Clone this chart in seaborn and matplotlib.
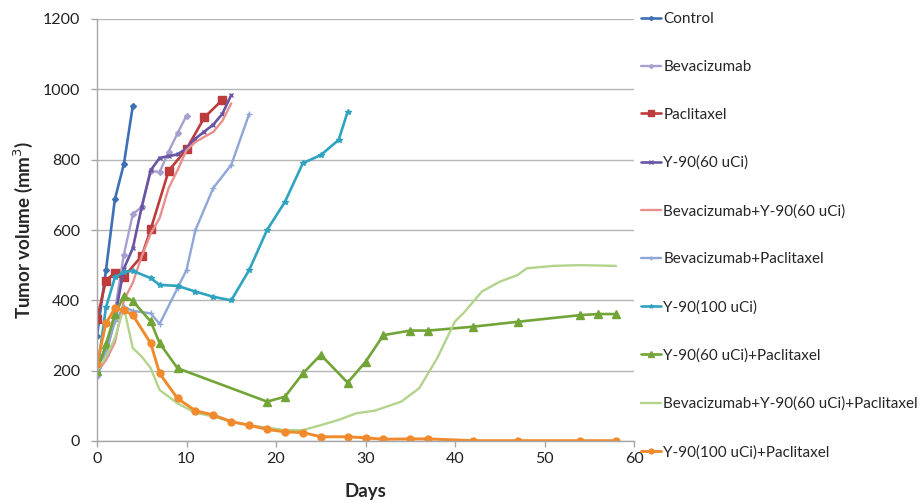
import matplotlib
matplotlib.use("Agg")
import matplotlib.pyplot as plt
import seaborn as sns
import numpy as np

# --- data (day, tumor volume mm3) ---
days_control = [0, 1, 2, 3, 4]
vol_control = [300, 485, 688, 787, 953]

days_bev = [0, 1, 2, 3, 4, 5, 6, 7, 8, 9, 10]
vol_bev = [185, 245, 370, 530, 645, 666, 768, 765, 823, 875, 925]

days_pac = [0, 1, 2, 3, 5, 6, 8, 10, 12, 14]
vol_pac = [347, 456, 479, 467, 526, 602, 768, 830, 920, 970]

days_y60 = [0, 1, 2, 3, 4, 5, 6, 7, 8, 9, 10, 11, 12, 13, 14, 15]
vol_y60 = [195, 250, 350, 490, 548, 666, 770, 805, 810, 815, 832, 860, 880, 900, 930, 984]

days_bev_y60 = [0, 1, 2, 3, 4, 5, 6, 7, 8, 9, 10, 11, 12, 13, 14, 15]
vol_bev_y60 = [195, 230, 280, 400, 450, 525, 590, 634, 719, 770, 827, 850, 865, 879, 910, 960]

days_bev_pac = [0, 1, 2, 3, 4, 6, 7, 9, 10, 11, 13, 15, 17]
vol_bev_pac = [185, 250, 340, 382, 370, 363, 333, 435, 486, 600, 720, 785, 930]

days_y100 = [0, 1, 2, 3, 4, 6, 7, 9, 11, 13, 15, 17, 19, 21, 23, 25, 27, 28]
vol_y100 = [193, 380, 465, 481, 484, 463, 444, 441, 425, 410, 400, 486, 600, 680, 790, 813, 856, 936]

days_y60_pac = [0, 1, 2, 3, 4, 6, 7, 9, 19, 21, 23, 25, 28, 30, 32, 35, 37, 42, 47, 54, 56, 58]
vol_y60_pac = [200, 275, 360, 412, 398, 340, 278, 207, 112, 126, 192, 245, 166, 225, 301, 314, 314, 325, 339, 358, 361, 361]

days_bev_y60_pac = [0, 1, 2, 3, 4, 5, 6, 7, 9, 11, 13, 15, 17, 19, 21, 23, 25, 27, 29, 31, 34,
                    36, 38, 40, 41, 43, 45, 47, 48, 51, 54, 58]
vol_bev_y60_pac = [200, 240, 292, 380, 264, 240, 207, 145, 107, 80, 70, 55, 45, 38, 31, 31, 45,
                   60, 79, 86, 112, 150, 235, 340, 365, 425, 453, 472, 491, 498, 500, 498]

days_y100_pac = [0, 1, 2, 3, 4, 6, 7, 9, 11, 13, 15, 17, 19, 21, 23, 25, 28, 30, 32, 35, 37, 42, 47, 54, 58]
vol_y100_pac = [219, 335, 377, 372, 358, 278, 192, 121, 86, 74, 55, 45, 33, 26, 24, 12, 12, 9, 5, 6, 6, 1, 1, 1, 1]

labels = ["Control", "Bevacizumab", "Paclitaxel", "Y-90(60 uCi)", "Bevacizumab+Y-90(60 uCi)",
          "Bevacizumab+Paclitaxel", "Y-90(100 uCi)", "Y-90(60 uCi)+Paclitaxel",
          "Bevacizumab+Y-90(60 uCi)+Paclitaxel", "Y-90(100 uCi)+Paclitaxel"]
all_days = [days_control, days_bev, days_pac, days_y60, days_bev_y60,
            days_bev_pac, days_y100, days_y60_pac, days_bev_y60_pac, days_y100_pac]
all_vols = [vol_control, vol_bev, vol_pac, vol_y60, vol_bev_y60,
            vol_bev_pac, vol_y100, vol_y60_pac, vol_bev_y60_pac, vol_y100_pac]

# styles: color, marker, markersize, linewidth
styles = [
    ("#3F6FB5", "D", 3.0, 1.9),
    ("#A79FCF", "D", 3.0, 1.7),
    ("#BE3B3B", "s", 5.5, 1.9),
    ("#6A55A5", "x", 3.5, 1.9),
    ("#E8908C", "None", 0, 1.7),
    ("#8EA6D8", "+", 4.0, 1.7),
    ("#2FA3C0", "*", 4.0, 1.9),
    ("#72A437", "^", 5.5, 1.9),
    ("#B2D48C", "None", 0, 1.7),
    ("#F08A2C", "o", 5.0, 2.1),
]

sns.set_style("white")
plt.rcParams['font.family'] = ['Lato', 'DejaVu Sans']

fig = plt.figure(figsize=(9.24, 5.04), dpi=100)
ax = fig.add_axes([97 / 924, 1 - 441 / 504, (634 - 97) / 924, (441 - 19) / 504])

for d, v, lab, (c, m, ms, lw) in zip(all_days, all_vols, labels, styles):
    sns.lineplot(x=d, y=v, ax=ax, color=c, marker=m, markersize=ms, linewidth=lw,
                 markeredgecolor=c, markeredgewidth=1.0, label=lab, sort=False)

ax.set_xlim(0, 60)
ax.set_ylim(0, 1200)
ax.set_xticks(np.arange(0, 61, 10))
ax.set_yticks(np.arange(0, 1201, 200))
ax.yaxis.grid(True, color="#b5b5b5", linewidth=1.0)
ax.xaxis.grid(False)
for s in ["top", "right"]:
    ax.spines[s].set_visible(False)
for s in ["left", "bottom"]:
    ax.spines[s].set_color("#a6a6a6")
    ax.spines[s].set_linewidth(1.0)
ax.tick_params(axis="both", which="major", labelsize=11.5, colors="#a6a6a6",
               labelcolor="#222222", length=4, width=1, direction="out",
               left=True, bottom=True)
ax.tick_params(axis="y", pad=8)
ax.tick_params(axis="x", pad=4)

ax.set_xlabel("Days", fontsize=13.5, fontweight="bold", labelpad=12)
ax.set_ylabel("Tumor volume (mm$^3$)", fontsize=13.5, fontweight="bold", labelpad=6)

leg = ax.legend(loc="upper left", bbox_to_anchor=(641 / 924, 1 - 12 / 504),
                bbox_transform=fig.transFigure, frameon=False, fontsize=11,
                labelspacing=2.22, handlelength=1.3, handletextpad=0.15,
                borderpad=0, borderaxespad=0, markerscale=0.7)

fig.savefig("out.png", dpi=100)
